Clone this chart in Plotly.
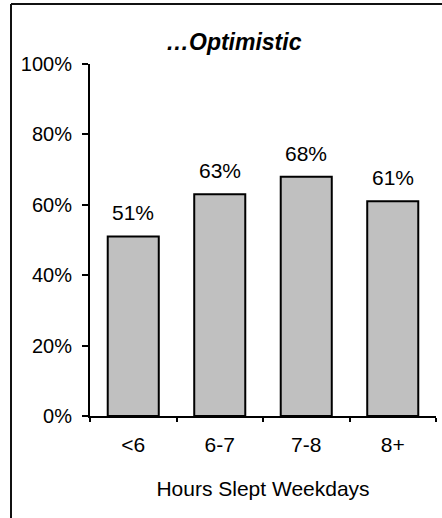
import plotly.graph_objects as go

# Share of respondents feeling optimistic, by weekday sleep duration
categories = ["<6", "6-7", "7-8", "8+"]
optimistic_share = [0.51, 0.63, 0.68, 0.61]
value_labels = ["51%", "63%", "68%", "61%"]
chart_title = "…Optimistic"
x_title = "Hours Slept Weekdays"

W, H = 442, 518
LEFT, RIGHT, TOP, BOTTOM = 90, 6, 64, 102
plot_w = W - LEFT - RIGHT
plot_h = H - TOP - BOTTOM

FONT = "Arial, Liberation Sans, sans-serif"

fig = go.Figure()
fig.add_trace(go.Bar(
    x=categories,
    y=optimistic_share,
    marker=dict(color="#c0c0c0", line=dict(color="#000000", width=2)),
    hoverinfo="skip",
))

# value labels above each bar
for cat, val, lab in zip(categories, optimistic_share, value_labels):
    fig.add_annotation(
        x=cat, y=val, text=lab, showarrow=False,
        xref="x", yref="y", yanchor="bottom", yshift=10,
        font=dict(family=FONT, size=21, color="#000000"),
    )

# chart title
fig.add_annotation(
    x=(234 - LEFT) / plot_w, y=(H - BOTTOM - 42) / plot_h,
    xref="paper", yref="paper", xanchor="center", yanchor="middle",
    text="<b><i>" + chart_title + "</i></b>", showarrow=False,
    font=dict(family=FONT, size=23, color="#000000"),
)

# outer frame: left and top edges (the rest runs off the page)
fx0 = (11 - LEFT) / plot_w
fy1 = (H - 4 - BOTTOM) / plot_h
frame_line = dict(color="#111111", width=2)
fig.add_shape(type="line", xref="paper", yref="paper",
              x0=fx0, x1=fx0, y0=-1.0, y1=fy1, line=frame_line, layer="below")
fig.add_shape(type="line", xref="paper", yref="paper",
              x0=fx0, x1=1.5, y0=fy1, y1=fy1, line=frame_line, layer="below")

fig.update_layout(
    width=W, height=H,
    margin=dict(l=LEFT, r=RIGHT, t=TOP, b=BOTTOM, pad=0),
    paper_bgcolor="#ffffff", plot_bgcolor="#ffffff",
    showlegend=False, bargap=0.41,
    font=dict(family=FONT, size=20, color="#000000"),
)
fig.update_xaxes(
    showline=True, linecolor="#000000", linewidth=2,
    ticks="outside", tickson="boundaries", ticklen=4, tickwidth=1.5,
    tickcolor="#000000", showgrid=False, zeroline=False,
    ticklabelstandoff=9,
    title=dict(text=x_title, font=dict(family=FONT, size=21), standoff=26),
    tickfont=dict(family=FONT, size=21),
)
fig.update_yaxes(
    range=[0, 1], dtick=0.2, tickformat=".0%",
    showline=True, linecolor="#000000", linewidth=2,
    ticks="outside", ticklen=6, tickwidth=2, tickcolor="#000000",
    showgrid=False, zeroline=False, ticklabelstandoff=6,
    tickfont=dict(family=FONT, size=20),
)

fig.write_html("out.html")
